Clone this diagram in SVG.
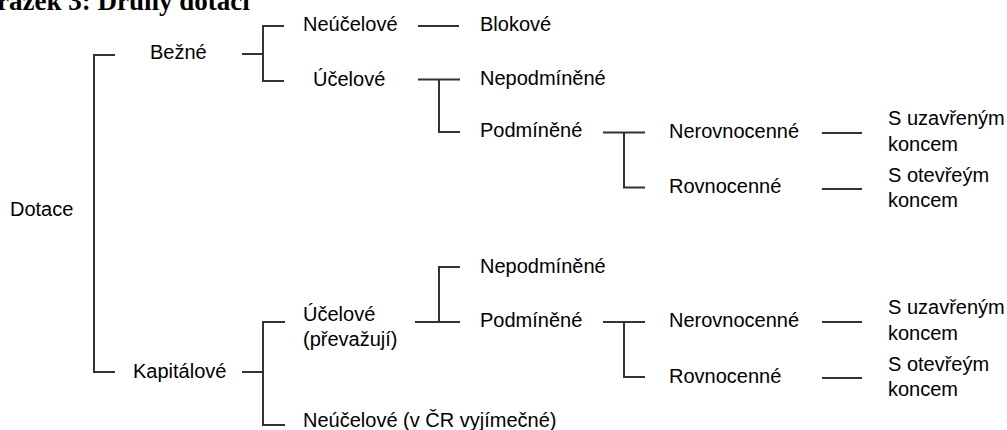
<svg xmlns="http://www.w3.org/2000/svg" width="1007" height="430" viewBox="0 0 1007 430">
  <style>
    .t { font-family: "Liberation Sans", Arial, sans-serif; font-size: 20px; fill: #000; }
    .title { font-family: "Liberation Serif", "Times New Roman", serif; font-size: 27px; font-weight: bold; fill: #000; }
    .c { fill: none; stroke: #333; stroke-width: 2; }
  </style>
  <rect width="1007" height="430" fill="#fff"/>

  <text class="title" x="-3" y="10">rázek 3: Druhy dotací</text>

  <!-- connectors: brackets and dashes between levels -->
  <g id="connectors" class="c">
    <!-- root bracket -->
    <path d="M115,55 H94 V372 H115"/>
    <!-- Bežné -->
    <path d="M242,54 H263"/>
    <path d="M284,26 H263 V81 H284"/>
    <path d="M418,26 H459"/>
    <!-- Bežné / Účelové -->
    <path d="M418,79.5 H460"/>
    <path d="M439,79.5 V132 H460"/>
    <path d="M603,132.5 H645"/>
    <path d="M624,132.5 V187.5 H645"/>
    <path d="M822,133 H862"/>
    <path d="M822,189 H862"/>
    <!-- Kapitálové -->
    <path d="M242,372 H263"/>
    <path d="M285,322 H263 V425 H285"/>
    <!-- Kapitálové / Účelové -->
    <path d="M415,322 H460"/>
    <path d="M439,322 V267 H460"/>
    <path d="M603,322 H645"/>
    <path d="M624,322 V377 H645"/>
    <path d="M822,322 H862"/>
    <path d="M822,378 H862"/>
  </g>

  <g id="dotace"><text class="t" x="10" y="216">Dotace</text></g>

  <g id="bezne"><text class="t" x="150" y="59">Bežné</text></g>
  <g id="bezne-neucelove"><text class="t" x="303" y="31">Neúčelové</text></g>
  <g id="blokove"><text class="t" x="480" y="31">Blokové</text></g>
  <g id="bezne-ucelove"><text class="t" x="313" y="86">Účelové</text></g>
  <g id="bezne-nepodminene"><text class="t" x="480" y="85">Nepodmíněné</text></g>
  <g id="bezne-podminene"><text class="t" x="480" y="137">Podmíněné</text></g>
  <g id="bezne-nerovnocenne"><text class="t" x="669" y="138">Nerovnocenné</text></g>
  <g id="bezne-uzavreny"><text class="t" x="888" y="125">S uzavřeným</text><text class="t" x="888" y="151">koncem</text></g>
  <g id="bezne-rovnocenne"><text class="t" x="669" y="193">Rovnocenné</text></g>
  <g id="bezne-otevreny"><text class="t" x="888" y="182">S otevřeým</text><text class="t" x="888" y="207">koncem</text></g>

  <g id="kapitalove"><text class="t" x="133" y="378">Kapitálové</text></g>
  <g id="kap-ucelove"><text class="t" x="303" y="321">Účelové</text><text class="t" x="303" y="346">(převažují)</text></g>
  <g id="kap-nepodminene"><text class="t" x="480" y="273">Nepodmíněné</text></g>
  <g id="kap-podminene"><text class="t" x="480" y="327">Podmíněné</text></g>
  <g id="kap-nerovnocenne"><text class="t" x="669" y="327">Nerovnocenné</text></g>
  <g id="kap-uzavreny"><text class="t" x="888" y="314">S uzavřeným</text><text class="t" x="888" y="340">koncem</text></g>
  <g id="kap-rovnocenne"><text class="t" x="669" y="383">Rovnocenné</text></g>
  <g id="kap-otevreny"><text class="t" x="888" y="371">S otevřeým</text><text class="t" x="888" y="396">koncem</text></g>
  <g id="kap-neucelove"><text class="t" x="303" y="427">Neúčelové (v ČR vyjímečné)</text></g>
</svg>
